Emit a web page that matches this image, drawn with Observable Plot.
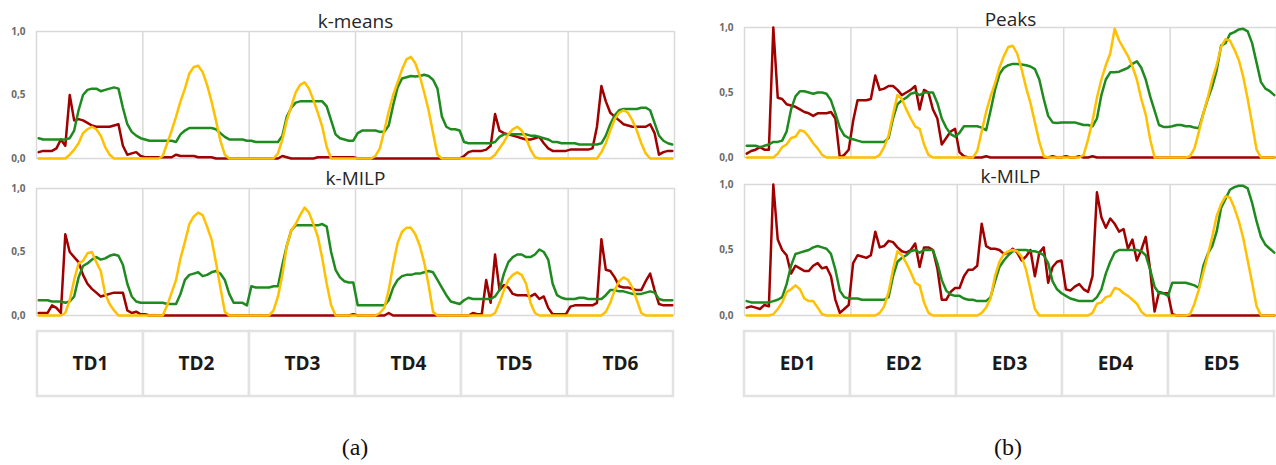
<!DOCTYPE html>
<html>
<head>
<meta charset="utf-8">
<script src="https://cdn.jsdelivr.net/npm/d3@7"></script>
<script src="https://cdn.jsdelivr.net/npm/@observablehq/plot@0.6"></script>
<style>
  body { margin: 0; background: #fff; }
  #root { position: relative; width: 1276px; height: 465px; overflow: hidden; background: #fff; font-family: "Open Sans", sans-serif; }
  #root svg { position: absolute; max-width: none; }
  .cap { position: absolute; width: 100px; text-align: center; font-family: "Liberation Serif", "Times New Roman", serif; font-size: 24px; line-height: 26px; color: #111; }
</style>
</head>
<body>
<div id="root"></div>
<script>
// ---------- categories / ticks ----------
const tdDays = ["TD1", "TD2", "TD3", "TD4", "TD5", "TD6"];
const edDays = ["ED1", "ED2", "ED3", "ED4", "ED5"];
const yTicks = [0, 0.5, 1];
const panelTitles = ["k-means", "k-MILP", "Peaks", "k-MILP"];
const captions = ["(a)", "(b)"];

// ---------- (a) k-means : 24 hourly values per typical day ----------
const kmeansRed = [
  0.05,0.06,0.06,0.06,0.08,0.15,0.10,0.50,0.30,0.31,0.30,0.28,0.26,0.25,0.25,0.25,0.25,0.26,0.27,0.10,0.03,0.04,0.05,0.02,
  0.01,0.01,0.01,0.01,0.01,0.01,0.01,0.03,0.02,0.02,0.02,0.02,0.01,0.01,0.01,0.01,0,0,0,0,0,0,0,0,
  0,0,0,0,0,0,0,0.02,0.01,0,0,0,0,0,0,0.01,0.01,0.01,0.01,0.01,0.01,0.01,0.01,0.01,
  0,0,0,0,0,0,0,0,0,0,0,0,0,0,0,0,0,0,0,0,0,0,0,0,
  0.02,0.05,0.06,0.06,0.06,0.07,0.10,0.35,0.22,0.20,0.19,0.18,0.17,0.16,0.15,0.15,0.16,0.17,0.12,0.08,0.06,0.06,0.06,0.06,
  0.07,0.07,0.07,0.07,0.07,0.08,0.25,0.57,0.45,0.36,0.33,0.30,0.27,0.26,0.25,0.25,0.25,0.25,0.27,0.20,0.03,0.05,0.06,0.06
];
const kmeansGreen = [
  0.16,0.15,0.15,0.15,0.15,0.15,0.15,0.16,0.22,0.38,0.50,0.54,0.55,0.55,0.53,0.54,0.55,0.56,0.55,0.40,0.27,0.21,0.18,0.16,
  0.15,0.14,0.14,0.14,0.14,0.14,0.14,0.13,0.19,0.22,0.24,0.24,0.24,0.24,0.24,0.24,0.23,0.20,0.17,0.15,0.15,0.15,0.15,0.14,
  0.14,0.13,0.13,0.13,0.13,0.13,0.13,0.18,0.33,0.40,0.44,0.45,0.45,0.45,0.45,0.45,0.45,0.41,0.30,0.19,0.16,0.15,0.14,0.14,
  0.20,0.22,0.22,0.22,0.22,0.21,0.21,0.26,0.42,0.56,0.63,0.64,0.65,0.645,0.65,0.66,0.65,0.62,0.55,0.33,0.25,0.23,0.23,0.22,
  0.13,0.12,0.12,0.12,0.12,0.12,0.12,0.13,0.17,0.19,0.19,0.19,0.19,0.19,0.19,0.18,0.18,0.17,0.16,0.15,0.13,0.13,0.12,0.12,
  0.12,0.12,0.11,0.11,0.11,0.11,0.11,0.12,0.18,0.27,0.34,0.38,0.39,0.39,0.39,0.39,0.40,0.40,0.38,0.28,0.18,0.14,0.12,0.11
];
const kmeansYellow = [
  0,0,0,0,0,0,0,0.03,0.07,0.12,0.20,0.23,0.25,0.23,0.18,0.09,0.03,0,0,0,0,0,0,0,
  0,0,0,0,0.02,0.12,0.22,0.33,0.45,0.55,0.67,0.72,0.73,0.68,0.58,0.45,0.30,0.14,0.03,0,0,0,0,0,
  0,0,0,0,0,0,0.04,0.15,0.30,0.41,0.52,0.58,0.60,0.55,0.46,0.36,0.25,0.09,0,0,0,0,0,0,
  0,0,0,0,0.02,0.08,0.22,0.37,0.50,0.60,0.70,0.78,0.80,0.75,0.65,0.52,0.38,0.20,0.03,0,0,0,0,0,
  0,0,0,0,0,0,0,0.03,0.08,0.13,0.19,0.23,0.25,0.22,0.16,0.07,0.01,0,0,0,0,0,0,0,
  0,0,0,0,0,0,0,0.05,0.12,0.22,0.31,0.36,0.38,0.36,0.30,0.22,0.12,0.04,0,0,0,0,0,0
];

// ---------- (a) k-MILP ----------
const tdMilpRed = [
  0.02,0.02,0.02,0.08,0.06,0.02,0.64,0.50,0.46,0.42,0.32,0.25,0.21,0.18,0.15,0.16,0.17,0.18,0.18,0.18,0.04,0.02,0.03,0.01,
  0.01,0,0,0,0,0,0,0,0,0,0,0,0,0,0,0,0,0,0,0,0,0,0,0,
  0,0,0,0,0,0,0,0,0,0,0,0,0,0,0,0,0,0,0,0,0,0,0,0.01,
  0,0,0,0,0,0,0,0.02,0,0,0,0,0,0,0,0,0,0,0,0,0,0,0,0,
  0,0,0.02,0.01,0.01,0.28,0.10,0.48,0.20,0.24,0.22,0.17,0.16,0.16,0.16,0.15,0.17,0.13,0.15,0.06,0.01,0.01,0.01,0.01,
  0.07,0.08,0.08,0.08,0.08,0.08,0.10,0.60,0.36,0.35,0.30,0.23,0.22,0.22,0.21,0.20,0.20,0.27,0.33,0.20,0.09,0.08,0.08,0.08
];
const tdMilpGreen = [
  0.12,0.12,0.12,0.11,0.11,0.11,0.10,0.11,0.15,0.30,0.39,0.41,0.44,0.46,0.44,0.45,0.47,0.48,0.47,0.40,0.25,0.15,0.11,0.10,
  0.10,0.10,0.10,0.10,0.10,0.09,0.09,0.09,0.17,0.28,0.32,0.33,0.34,0.31,0.32,0.34,0.35,0.33,0.28,0.17,0.10,0.10,0.10,0.08,
  0.23,0.22,0.22,0.22,0.22,0.23,0.23,0.40,0.55,0.67,0.71,0.71,0.71,0.71,0.71,0.71,0.72,0.70,0.50,0.36,0.30,0.27,0.26,0.26,
  0.08,0.08,0.08,0.08,0.08,0.08,0.08,0.12,0.22,0.28,0.31,0.32,0.32,0.33,0.33,0.34,0.35,0.34,0.28,0.22,0.16,0.11,0.10,0.09,
  0.12,0.14,0.13,0.13,0.13,0.13,0.13,0.15,0.20,0.33,0.42,0.46,0.48,0.48,0.46,0.46,0.48,0.52,0.50,0.44,0.25,0.16,0.14,0.13,
  0.13,0.13,0.14,0.14,0.13,0.13,0.13,0.13,0.16,0.20,0.20,0.19,0.19,0.18,0.17,0.17,0.17,0.18,0.19,0.18,0.13,0.12,0.12,0.12
];
const tdMilpYellow = [
  0,0,0,0,0,0,0.02,0.12,0.28,0.41,0.43,0.49,0.50,0.42,0.35,0.17,0.09,0.04,0,0,0,0,0,0,
  0,0,0,0,0,0.08,0.18,0.28,0.45,0.58,0.72,0.78,0.81,0.79,0.70,0.60,0.42,0.22,0.03,0,0,0,0,0,
  0,0,0,0,0,0.04,0.15,0.32,0.55,0.67,0.72,0.79,0.85,0.81,0.72,0.62,0.45,0.25,0.08,0,0,0,0,0,
  0,0,0,0,0,0.02,0.06,0.20,0.40,0.57,0.66,0.69,0.69,0.64,0.55,0.42,0.24,0.03,0,0,0,0,0,0,
  0,0,0,0,0,0,0,0.02,0.10,0.20,0.28,0.32,0.34,0.32,0.25,0.10,0.02,0,0,0,0,0,0,0,
  0,0,0,0,0,0,0,0,0.03,0.10,0.20,0.27,0.30,0.28,0.22,0.12,0.02,0,0,0,0,0,0,0
];

// ---------- (b) Peaks ----------
const peaksRed = [
  0.03,0.05,0.06,0.08,0.06,0.06,1.00,0.46,0.45,0.41,0.40,0.39,0.37,0.35,0.34,0.32,0.34,0.34,0.34,0.35,0.30,0.00,0.02,0.06,
  0.28,0.44,0.44,0.44,0.45,0.63,0.52,0.53,0.55,0.55,0.52,0.48,0.50,0.52,0.55,0.37,0.52,0.50,0.37,0.30,0.10,0.15,0.20,0.22,
  0.04,0.01,0,0,0,0,0.01,0,0,0,0,0,0,0,0,0,0,0,0,0,0,0.01,0,0,
  0.01,0,0,0.01,0,0,0.01,0,0,0,0,0,0,0,0,0,0,0,0,0,0,0,0,0,
  0,0,0,0,0,0,0,0,0,0,0,0,0,0,0,0,0,0,0,0,0,0,0,0
];
const peaksGreen = [
  0.09,0.09,0.09,0.08,0.09,0.10,0.12,0.12,0.13,0.20,0.37,0.47,0.51,0.51,0.50,0.49,0.50,0.50,0.49,0.44,0.34,0.23,0.17,0.15,
  0.14,0.13,0.12,0.12,0.12,0.12,0.12,0.12,0.15,0.30,0.41,0.44,0.46,0.49,0.50,0.48,0.50,0.50,0.50,0.42,0.30,0.23,0.18,0.16,
  0.19,0.24,0.24,0.24,0.24,0.23,0.21,0.36,0.52,0.64,0.69,0.71,0.72,0.72,0.715,0.71,0.70,0.68,0.60,0.45,0.32,0.27,0.265,0.27,
  0.27,0.27,0.27,0.26,0.25,0.25,0.24,0.30,0.48,0.60,0.655,0.655,0.66,0.675,0.69,0.72,0.74,0.69,0.60,0.47,0.36,0.25,0.235,0.235,
  0.24,0.25,0.25,0.24,0.24,0.23,0.225,0.34,0.45,0.545,0.67,0.86,0.88,0.95,0.965,0.985,0.99,0.97,0.88,0.73,0.58,0.53,0.51,0.48
];
const peaksYellow = [
  0,0,0,0,0,0,0,0.03,0.08,0.10,0.15,0.16,0.21,0.20,0.16,0.11,0.07,0.02,0,0,0,0,0,0,
  0,0,0,0,0,0,0.02,0.08,0.17,0.33,0.48,0.45,0.37,0.30,0.24,0.22,0.10,0.02,0,0,0,0,0,0,
  0,0,0,0,0.05,0.20,0.35,0.47,0.57,0.69,0.78,0.85,0.86,0.80,0.68,0.54,0.42,0.27,0.12,0.01,0,0,0,0,
  0,0,0,0,0.02,0.14,0.28,0.46,0.60,0.71,0.80,0.99,0.90,0.84,0.78,0.70,0.60,0.45,0.33,0.14,0,0,0,0,
  0,0,0,0,0.01,0.07,0.20,0.34,0.46,0.60,0.71,0.85,0.91,0.90,0.83,0.75,0.62,0.45,0.26,0.06,0,0,0,0
];

// ---------- (b) k-MILP ----------
const edMilpRed = [
  0.06,0.07,0.06,0.05,0.08,0.07,1.00,0.58,0.50,0.46,0.32,0.38,0.36,0.34,0.34,0.38,0.40,0.36,0.37,0.30,0.12,0.02,0.05,0.08,
  0.40,0.46,0.45,0.44,0.46,0.64,0.52,0.53,0.57,0.56,0.52,0.49,0.48,0.50,0.55,0.37,0.52,0.52,0.50,0.36,0.12,0.12,0.18,0.21,
  0.21,0.30,0.35,0.35,0.38,0.70,0.53,0.51,0.51,0.50,0.47,0.48,0.51,0.48,0.42,0.45,0.50,0.30,0.48,0.52,0.25,0.37,0.41,0.42,
  0.20,0.19,0.22,0.24,0.20,0.18,0.30,0.94,0.75,0.67,0.74,0.70,0.64,0.66,0.51,0.58,0.42,0.50,0.60,0.35,0.03,0.18,0.17,0.17,
  0.01,0,0,0,0,0,0,0,0,0,0,0,0,0,0,0,0,0,0,0,0,0,0,0
];
const edMilpGreen = [
  0.11,0.10,0.10,0.10,0.10,0.10,0.11,0.12,0.14,0.24,0.38,0.47,0.48,0.49,0.50,0.52,0.53,0.52,0.51,0.47,0.35,0.19,0.14,0.13,
  0.13,0.13,0.12,0.12,0.12,0.12,0.12,0.12,0.14,0.30,0.41,0.44,0.46,0.49,0.50,0.48,0.50,0.50,0.50,0.40,0.27,0.19,0.16,0.15,
  0.15,0.13,0.12,0.12,0.11,0.11,0.11,0.14,0.26,0.37,0.42,0.46,0.49,0.50,0.50,0.50,0.49,0.49,0.48,0.46,0.40,0.26,0.20,0.17,
  0.15,0.13,0.12,0.11,0.11,0.11,0.11,0.14,0.20,0.32,0.41,0.48,0.50,0.50,0.50,0.50,0.50,0.49,0.46,0.35,0.22,0.17,0.17,0.15,
  0.25,0.25,0.25,0.25,0.24,0.23,0.21,0.38,0.47,0.53,0.64,0.82,0.89,0.96,0.98,0.99,0.99,0.97,0.86,0.72,0.60,0.54,0.51,0.48
];
const edMilpYellow = [
  0,0,0,0,0,0,0.01,0.05,0.10,0.18,0.20,0.23,0.20,0.13,0.11,0.11,0.06,0.01,0,0,0,0,0,0,
  0,0,0,0,0,0,0.02,0.07,0.18,0.35,0.49,0.46,0.40,0.33,0.25,0.23,0.10,0.02,0,0,0,0,0,0,
  0,0,0,0,0,0.02,0.06,0.13,0.30,0.41,0.47,0.49,0.50,0.49,0.45,0.35,0.20,0.05,0,0,0,0,0,0,
  0,0,0,0,0,0,0.02,0.09,0.10,0.14,0.15,0.21,0.20,0.17,0.15,0.12,0.09,0.03,0,0,0,0,0,0,
  0,0,0,0,0.01,0.09,0.20,0.33,0.46,0.60,0.76,0.85,0.91,0.90,0.82,0.72,0.59,0.42,0.25,0.07,0,0,0,0
];

// ---------- drawing ----------
const root = document.getElementById("root");
const COLORS = {red: "#a00000", green: "#1f8a1f", yellow: "#ffc000"};
const GRID = "#d9d9d9";

function rows(arr) { return arr.map((v, i) => ({t: i + 0.5, v})); }

function chart(days, red, green, yellow, title, box) {
  const n = days.length * 24;
  const svg = Plot.plot({
    width: box.w, height: box.h,
    marginLeft: box.ml, marginRight: box.mr, marginTop: box.mt, marginBottom: box.mb,
    x: {domain: [0, n], axis: null},
    y: {domain: [0, 1], ticks: yTicks, tickSize: 0, tickPadding: 11,
        tickFormat: d => d.toFixed(1).replace(".", ","), label: null},
    style: {fontFamily: "'Open Sans', sans-serif", fontSize: "10px", fontWeight: "bold",
            color: "#6b6b6b", background: "transparent", overflow: "visible"},
    marks: [
      Plot.ruleY([0, 1], {stroke: GRID, strokeWidth: 1.5}),
      Plot.ruleX(d3.range(days.length + 1).map(i => i * 24), {stroke: GRID, strokeWidth: 1.5}),
      Plot.line(rows(red), {x: "t", y: "v", stroke: COLORS.red, strokeWidth: 2.5}),
      Plot.line(rows(green), {x: "t", y: "v", stroke: COLORS.green, strokeWidth: 2.5}),
      Plot.line(rows(yellow), {x: "t", y: "v", stroke: COLORS.yellow, strokeWidth: 2.5}),
      Plot.text([title], {frameAnchor: "top", lineAnchor: "bottom", dy: box.tdy,
                          fontSize: 19, fontWeight: "normal", fill: "#262626"})
    ]
  });
  svg.style.left = box.left + "px";
  svg.style.top = box.top + "px";
  root.appendChild(svg);
}

function table(days, box) {
  const svg = Plot.plot({
    width: box.w, height: box.h,
    marginLeft: box.ml, marginRight: box.mr, marginTop: box.mt, marginBottom: box.mb,
    x: {domain: days, padding: 0, axis: null},
    style: {fontFamily: "'Open Sans', sans-serif", background: "transparent", overflow: "visible"},
    marks: [
      Plot.cell(days, {x: d => d, fill: "white", stroke: "#e2e2e2", strokeWidth: 2.5}),
      Plot.text(days, {x: d => d, text: d => d, frameAnchor: "middle",
                       fontSize: 19, fontWeight: "bold", fill: "#1a1a1a"})
    ]
  });
  svg.style.left = box.left + "px";
  svg.style.top = box.top + "px";
  root.appendChild(svg);
}

chart(tdDays, kmeansRed, kmeansGreen, kmeansYellow, panelTitles[0],
      {left: 0, top: 0, w: 690, h: 165, ml: 36, mr: 16, mt: 31, mb: 7, tdy: -4});
chart(tdDays, tdMilpRed, tdMilpGreen, tdMilpYellow, panelTitles[1],
      {left: 0, top: 165, w: 690, h: 160, ml: 36, mr: 16, mt: 23, mb: 10, tdy: -4});
chart(edDays, peaksRed, peaksGreen, peaksYellow, panelTitles[2],
      {left: 690, top: 0, w: 586, h: 165, ml: 54, mr: 0, mt: 27, mb: 8, tdy: -2});
chart(edDays, edMilpRed, edMilpGreen, edMilpYellow, panelTitles[3],
      {left: 690, top: 165, w: 586, h: 160, ml: 54, mr: 0, mt: 19, mb: 10, tdy: -2});

table(tdDays, {left: 0, top: 325, w: 690, h: 85, ml: 36, mr: 16, mt: 6, mb: 14});
table(edDays, {left: 690, top: 325, w: 586, h: 85, ml: 53, mr: 1, mt: 6, mb: 14});

[[captions[0], 355], [captions[1], 1008]].forEach(([txt, cx]) => {
  const d = document.createElement("div");
  d.className = "cap";
  d.textContent = txt;
  d.style.left = (cx - 50) + "px";
  d.style.top = "434px";
  root.appendChild(d);
});
</script>
</body>
</html>
